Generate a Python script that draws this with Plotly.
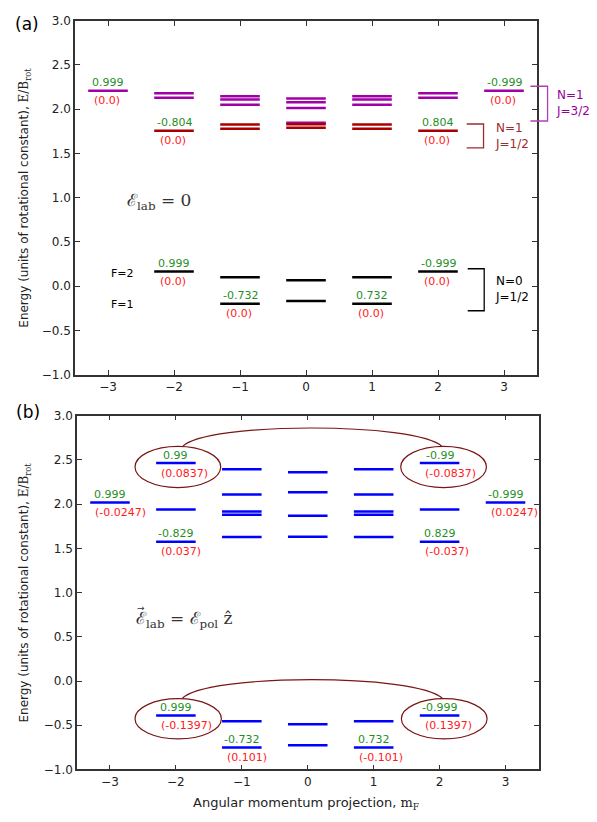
import plotly.graph_objects as go

W, H = 597, 822

# ---------------- data ----------------
# panel (a): zero field
a_black_m = [-2, -1, -1, 0, 0, 1, 1, 2]
a_black_E = [0.167, 0.100, -0.200, 0.067, -0.167, 0.100, -0.200, 0.167]
a_red_m = [-2, -1, -1, 0, 0, 1, 1, 2]
a_red_E = [1.756, 1.826, 1.778, 1.830, 1.790, 1.826, 1.778, 1.756]
a_mag_m = [-3, -2, -2, -1, -1, -1, 0, 0, 0, 0, 1, 1, 1, 2, 2, 3]
a_mag_E = [2.210, 2.180, 2.130, 2.148, 2.111, 2.052, 2.122, 2.078, 2.015, 1.848,
           2.148, 2.111, 2.052, 2.180, 2.130, 2.210]

a_lab_m = [-3, -2, 2, 3, -2, -1, 1, 2]
a_lab_E = [2.210, 1.756, 1.756, 2.210, 0.167, -0.200, -0.200, 0.167]
a_lab_top = ["0.999", "-0.804", "0.804", "-0.999", "0.999", "-0.732", "0.732", "-0.999"]
a_lab_bot = ["(0.0)"] * 8

# panel (b): polarizing field
b_blue_m = [-3,
            -2, -2, -2, -2,
            -1, -1, -1, -1, -1, -1, -1,
            0, 0, 0, 0, 0, 0,
            1, 1, 1, 1, 1, 1, 1,
            2, 2, 2, 2,
            3]
b_blue_E = [2.017,
            2.464, 1.939, 1.573, -0.389,
            2.394, 2.109, 1.917, 1.879, 1.628, -0.455, -0.751,
            2.360, 2.134, 1.868, 1.632, -0.488, -0.725,
            2.394, 2.109, 1.917, 1.879, 1.628, -0.455, -0.751,
            2.464, 1.939, 1.573, -0.389,
            2.017]

b_lab_m = [-3, -2, -2, 2, 2, 3, -2, -1, 1, 2]
b_lab_E = [2.017, 2.464, 1.573, 2.464, 1.573, 2.017, -0.389, -0.751, -0.751, -0.389]
b_lab_top = ["0.999", "0.99", "-0.829", "-0.99", "0.829", "-0.999",
             "0.999", "-0.732", "0.732", "-0.999"]
b_lab_bot = ["(-0.0247)", "(0.0837)", "(0.037)", "(-0.0837)", "(-0.037)", "(0.0247)",
             "(-0.1397)", "(0.101)", "(-0.101)", "(0.1397)"]

x_ticks = [-3, -2, -1, 0, 1, 2, 3]

# ---------------- layout geometry ----------------
A_X = (75, 537); A_Y = (14, 374)
B_X = (77, 538.5); B_Y = (415.7, 775.7)
XR = [-3.5, 3.5]; YR = [-1.0, 3.0]
HALF = 0.3

def dom_x(p): return [p[0] / W, p[1] / W]
def dom_y(p): return [1 - p[1] / H, 1 - p[0] / H]

def to_paper(xv, yv, PX, PY):
    px = PX[0] + (xv - XR[0]) / (XR[1] - XR[0]) * (PX[1] - PX[0])
    py = PY[1] - (yv - YR[0]) / (YR[1] - YR[0]) * (PY[1] - PY[0])
    return px / W, 1 - py / H

def segs(ms, Es):
    xs, ys = [], []
    for m, e in zip(ms, Es):
        xs += [m - HALF, m + HALF, None]
        ys += [e, e, None]
    return xs, ys

MAG = "#a000a5"
DRED = "#a80000"
BLUE = "#0000ff"
GREEN = "#1f8f1f"
RED = "#ff1a1a"
ELL = "#7a1515"
FONT = "DejaVu Sans"

fig = go.Figure()
for ms, Es, col, xa, ya in [
    (a_black_m, a_black_E, "black", "x", "y"),
    (a_mag_m, a_mag_E, MAG, "x", "y"),
    (a_red_m, a_red_E, DRED, "x", "y"),
    (b_blue_m, b_blue_E, BLUE, "x2", "y2"),
]:
    xs, ys = segs(ms, Es)
    fig.add_trace(go.Scatter(x=xs, y=ys, mode="lines", line=dict(color=col, width=2.5),
                             xaxis=xa, yaxis=ya, showlegend=False, hoverinfo="skip"))

ann = []
def A(**kw):
    kw.setdefault("showarrow", False)
    kw.setdefault("xanchor", "center")
    kw.setdefault("yanchor", "middle")
    ann.append(kw)

def add_labels(ms, Es, tops, bots, xr, yr):
    for m, e, t, b in zip(ms, Es, tops, bots):
        A(x=m, y=e, xref=xr, yref=yr, text=t, yshift=8,
          font=dict(family=FONT, size=11, color=GREEN))
        A(x=m - 0.25, y=e, xref=xr, yref=yr, text=b, xanchor="left", yshift=-10,
          font=dict(family=FONT, size=11, color=RED))

add_labels(a_lab_m, a_lab_E, a_lab_top, a_lab_bot, "x", "y")
add_labels(b_lab_m, b_lab_E, b_lab_top, b_lab_bot, "x2", "y2")

# F labels
A(x=-2.98, y=0.148, xref="x", yref="y", text="F=2", xanchor="left",
  font=dict(family=FONT, size=11, color="black"))
A(x=-2.98, y=-0.208, xref="x", yref="y", text="F=1", xanchor="left",
  font=dict(family=FONT, size=11, color="black"))

# bracket labels
BRK_R = "#9b2d2d"
BRK_M = "#b040b0"
A(x=2.83, y=1.70, xref="x", yref="y", text="N=1<br>J=1/2", xanchor="left", align="left",
  font=dict(family=FONT, size=12, color=BRK_R))
A(x=2.83, y=-0.035, xref="x", yref="y", text="N=0<br>J=1/2", xanchor="left", align="left",
  font=dict(family=FONT, size=12, color="black"))
mx, my = to_paper(3.76, 2.074, A_X, A_Y)
A(x=mx, y=my, xref="paper", yref="paper", text="N=1<br>J=3/2", xanchor="left", align="left",
  font=dict(family=FONT, size=12, color="#990099"))

# math labels
A(x=-2.74, y=0.955, xref="x", yref="y", text="ℰ<sub>lab</sub> = 0", xanchor="left",
  font=dict(family="DejaVu Serif", size=17, color="#333"))
A(x=-2.64, y=0.69, xref="x2", yref="y2",
  text="ℰ<sub>lab</sub> = ℰ<sub>pol</sub> ẑ", xanchor="left",
  font=dict(family="DejaVu Serif", size=17, color="#333"))
A(x=-2.53, y=0.82, xref="x2", yref="y2", text="→",
  font=dict(family="DejaVu Sans", size=9, color="#333"))

# panel labels
A(x=27 / W, y=1 - 17 / H, xref="paper", yref="paper", text="(a)",
  font=dict(family=FONT, size=17, color="black"))
A(x=28 / W, y=1 - 412 / H, xref="paper", yref="paper", text="(b)",
  font=dict(family=FONT, size=17, color="black"))

# axis titles
ytitle = ("Energy (units of rotational constant), "
          "<span style='font-family:DejaVu Serif'>E/B<sub>rot</sub></span>")
for PY in (A_Y, B_Y):
    A(x=25 / W, y=1 - (PY[0] + PY[1]) / 2 / H, xref="paper", yref="paper",
      text=ytitle, textangle=-90, font=dict(family=FONT, size=12, color="#222"))
A(x=306 / W, y=1 - 810 / H, xref="paper", yref="paper",
  text="Angular momentum projection, <span style='font-family:DejaVu Serif'>m<sub>F</sub></span>",
  font=dict(family=FONT, size=13, color="#222"))

shapes = []
# brackets
shapes.append(dict(type="path", xref="x", yref="y",
                   path="M 2.435,1.833 L 2.69,1.833 L 2.69,1.563 L 2.435,1.563",
                   line=dict(color=BRK_R, width=1.3)))
shapes.append(dict(type="path", xref="x", yref="y",
                   path="M 2.45,0.197 L 2.70,0.197 L 2.70,-0.278 L 2.45,-0.278",
                   line=dict(color="black", width=1.3)))
p1 = to_paper(3.40, 2.26, A_X, A_Y)
p2 = to_paper(3.66, 2.26, A_X, A_Y)
p3 = to_paper(3.66, 1.867, A_X, A_Y)
p4 = to_paper(3.40, 1.867, A_X, A_Y)
shapes.append(dict(type="path", xref="paper", yref="paper",
                   path=f"M {p1[0]},{p1[1]} L {p2[0]},{p2[1]} L {p3[0]},{p3[1]} L {p4[0]},{p4[1]}",
                   line=dict(color=BRK_M, width=1.3)))

# ellipses and connecting arcs in panel (b)
for (x0, x1, y0, y1) in [(-2.62, -1.32, 2.186, 2.653), (1.41, 2.71, 2.186, 2.653),
                         (-2.62, -1.31, -0.655, -0.200), (1.42, 2.72, -0.655, -0.200)]:
    shapes.append(dict(type="circle", xref="x2", yref="y2", x0=x0, x1=x1, y0=y0, y1=y1,
                       line=dict(color=ELL, width=1.2)))
for off in (0.0, -2.845):
    shapes.append(dict(type="path", xref="x2", yref="y2",
                       path=(f"M -1.9,{2.65+off} C -1.55,{2.93+off} 1.65,{2.93+off} 2.04,{2.65+off}"),
                       line=dict(color=ELL, width=1.2)))

axis_common = dict(range=XR, tickvals=x_ticks, ticks="inside", ticklen=5, tickwidth=1.2,
                   tickcolor="#333", showline=True, linecolor="#333", linewidth=1.5,
                   mirror="allticks", showgrid=False, zeroline=False,
                   tickfont=dict(family=FONT, size=12, color="#222"))
yaxis_common = dict(range=YR, dtick=0.5, tick0=-1, tickformat=".1f", ticks="inside", ticklen=5,
                    tickwidth=1.2, tickcolor="#333", showline=True, linecolor="#333",
                    linewidth=1.5, mirror="allticks", showgrid=False, zeroline=False,
                    tickfont=dict(family=FONT, size=12, color="#222"))

fig.update_layout(
    width=W, height=H, margin=dict(l=0, r=0, t=0, b=0),
    paper_bgcolor="white", plot_bgcolor="white",
    xaxis=dict(domain=dom_x(A_X), anchor="y", **axis_common),
    yaxis=dict(domain=dom_y(A_Y), anchor="x", **yaxis_common),
    xaxis2=dict(domain=dom_x(B_X), anchor="y2", **axis_common),
    yaxis2=dict(domain=dom_y(B_Y), anchor="x2", **yaxis_common),
    annotations=ann, shapes=shapes, showlegend=False,
)

fig.write_html("out.html", config={"displayModeBar": False},
               post_script="document.body.style.margin='0px';document.body.style.overflow='hidden';")
